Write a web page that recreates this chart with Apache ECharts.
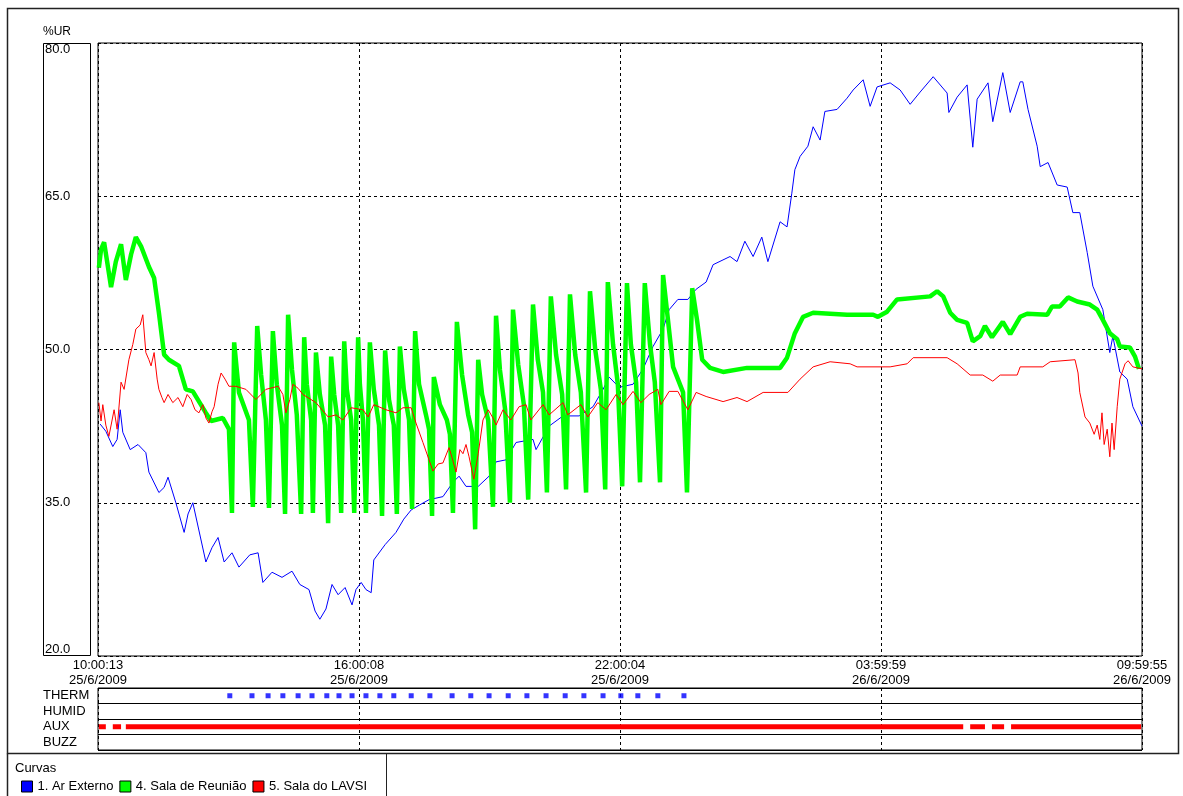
<!DOCTYPE html>
<html><head><meta charset="utf-8">
<script src="https://cdn.jsdelivr.net/npm/echarts@6/dist/echarts.min.js"></script>
<style>html,body{margin:0;padding:0;background:#fff}#c{width:1183px;height:796px}</style>
</head><body><div id="c"></div>
<script>
// X axis: hours elapsed since 25/6/2009 10:00:13
const tickTimes = ['10:00:13', '16:00:08', '22:00:04', '03:59:59', '09:59:55'];
const tickDates = ['25/6/2009', '25/6/2009', '25/6/2009', '26/6/2009', '26/6/2009'];
const statusRows = ['THERM', 'HUMID', 'AUX', 'BUZZ'];
const seriesNames = ['1. Ar Externo', '4. Sala de Reunião', '5. Sala do LAVSI'];

// 1. Ar Externo  [hours, %UR]
const arExterno = [[0.05,42.7],[0.18,42.0],[0.34,40.5],[0.44,41.2],[0.51,44.1],[0.57,41.9],[0.74,40.2],[0.92,40.7],[1.10,39.9],[1.17,38.0],[1.40,36.0],[1.52,36.5],[1.61,37.5],[1.79,35.0],[1.98,32.1],[2.07,33.9],[2.18,35.0],[2.48,29.2],[2.62,30.6],[2.76,31.6],[2.90,29.2],[3.08,30.1],[3.24,28.7],[3.49,29.9],[3.68,30.1],[3.79,27.2],[4.00,28.2],[4.23,27.7],[4.46,28.3],[4.64,27.0],[4.85,26.5],[4.99,24.4],[5.10,23.6],[5.24,24.6],[5.38,27.0],[5.52,26.0],[5.68,26.7],[5.84,25.0],[5.93,26.5],[6.05,27.2],[6.16,26.5],[6.28,26.2],[6.34,29.4],[6.60,30.9],[6.85,32.1],[7.03,33.4],[7.20,34.3],[7.40,34.8],[7.61,35.3],[7.93,35.6],[8.16,37.0],[8.30,37.6],[8.46,36.6],[8.74,36.6],[8.99,37.6],[9.15,39.0],[9.38,39.2],[9.61,40.9],[10.00,41.2],[10.07,40.2],[10.37,42.5],[10.69,43.5],[11.06,43.5],[11.38,44.4],[11.61,46.1],[11.75,47.3],[11.98,46.3],[12.30,46.6],[12.53,48.1],[12.76,50.3],[12.99,52.0],[13.13,53.9],[13.33,54.9],[13.56,54.9],[13.75,55.9],[13.98,56.6],[14.14,58.3],[14.53,59.1],[14.69,58.6],[14.87,60.6],[15.06,59.1],[15.26,61.0],[15.40,58.6],[15.68,62.5],[15.84,62.0],[15.95,65.3],[16.02,67.6],[16.14,68.9],[16.32,69.9],[16.44,71.8],[16.60,70.5],[16.71,73.3],[16.99,73.5],[17.22,74.6],[17.36,75.4],[17.59,76.4],[17.75,73.8],[17.91,75.7],[18.21,76.1],[18.44,75.4],[18.67,74.0],[18.90,75.2],[19.20,76.7],[19.52,75.1],[19.56,73.2],[19.75,74.7],[19.98,75.9],[20.11,69.8],[20.21,74.5],[20.46,76.1],[20.57,72.3],[20.80,77.1],[20.97,73.2],[21.20,76.2],[21.26,76.2],[21.38,73.5],[21.59,69.9],[21.66,67.9],[21.84,68.3],[22.05,66.1],[22.28,65.9],[22.41,63.4],[22.57,63.4],[22.74,59.5],[22.87,56.2],[23.10,53.9],[23.26,49.7],[23.33,51.3],[23.49,47.8],[23.66,47.1],[23.79,44.4],[24.00,42.5]];

// 4. Sala de Reunião  [hours, %UR]
const salaReuniao = [[0.02,58.0],[0.07,59.8],[0.14,60.5],[0.21,58.6],[0.30,56.1],[0.41,58.6],[0.53,60.3],[0.64,56.8],[0.76,59.3],[0.87,61.0],[0.99,60.1],[1.17,58.1],[1.29,57.0],[1.40,53.6],[1.52,49.5],[1.63,49.0],[1.86,48.4],[2.02,46.1],[2.18,45.9],[2.48,43.8],[2.60,43.0],[2.87,43.3],[3.01,42.2],
[3.08,34.0],[3.13,50.7],[3.24,45.8],[3.47,43.1],
[3.56,34.6],[3.66,52.3],[3.75,47.5],[3.86,43.1],
[3.93,34.5],[4.02,51.8],[4.11,46.6],[4.23,42.6],
[4.30,33.9],[4.37,53.4],[4.46,48.0],[4.57,43.6],
[4.67,33.9],[4.74,51.2],[4.80,46.6],[4.90,43.1],
[4.94,34.0],[5.01,49.7],[5.10,45.6],[5.22,42.6],
[5.29,33.0],[5.36,49.3],[5.43,45.6],[5.52,42.6],
[5.59,34.0],[5.66,50.8],[5.72,46.1],[5.82,43.1],
[5.89,34.0],[5.98,51.2],[6.02,46.6],[6.09,43.1],
[6.16,34.0],[6.25,50.7],[6.34,46.1],[6.46,42.6],
[6.53,33.7],[6.60,49.9],[6.69,45.1],[6.80,42.6],
[6.87,33.9],[6.94,50.3],[7.03,46.1],[7.15,43.1],
[7.22,34.4],[7.29,51.8],[7.38,46.6],[7.54,43.6],[7.61,42.2],
[7.68,33.7],[7.72,47.3],[7.86,44.6],[8.02,43.1],[8.09,41.7],
[8.16,34.0],[8.25,52.7],[8.37,47.5],[8.51,43.6],[8.60,41.9],
[8.67,32.4],[8.74,49.0],[8.83,45.6],[8.97,43.1],
[9.08,34.6],[9.15,53.3],[9.24,48.0],[9.36,44.1],
[9.47,35.0],[9.54,53.9],[9.66,48.5],[9.79,44.6],
[9.89,35.3],[10.00,54.4],[10.11,49.0],[10.23,45.8],
[10.32,36.0],[10.41,55.2],[10.53,49.5],[10.67,45.6],
[10.76,36.3],[10.85,55.4],[10.97,49.5],[11.10,45.8],
[11.22,36.0],[11.31,55.7],[11.43,50.0],[11.56,46.1],
[11.66,36.3],[11.72,56.6],[11.84,50.5],[11.95,46.6],
[12.05,36.6],[12.16,56.5],[12.25,50.5],[12.37,46.8],
[12.46,37.0],[12.57,56.5],[12.69,50.5],[12.80,46.8],
[12.92,37.0],[12.99,57.3],[13.22,48.3],[13.45,45.8],
[13.54,36.0],[13.66,56.0],[13.77,52.9],[13.89,49.0],[14.07,48.2],[14.37,47.8],[14.92,48.2],[15.22,48.2],[15.68,48.2],[15.84,49.2],[16.02,51.6],[16.21,53.2],[16.44,53.6],[17.22,53.4],[17.82,53.4],[17.93,53.2],[18.14,53.7],[18.37,54.9],[19.13,55.2],[19.29,55.7],[19.43,55.2],[19.59,53.6],[19.75,52.9],[19.98,52.6],[20.11,50.8],[20.28,51.3],[20.39,52.3],[20.55,51.2],[20.80,52.7],[20.97,51.5],[21.20,53.2],[21.36,53.5],[21.82,53.4],[21.93,54.2],[22.11,54.2],[22.30,55.1],[22.51,54.7],[22.80,54.4],[22.97,53.9],[23.10,52.9],[23.26,51.6],[23.43,51.0],[23.49,50.3],[23.72,50.2],[23.84,49.3],[23.93,48.1]];

// 5. Sala do LAVSI  [hours, %UR]
const salaLavsi = [[0.02,44.8],[0.07,43.0],[0.11,44.6],[0.18,42.6],[0.25,41.5],[0.32,43.0],[0.37,44.1],[0.44,42.2],[0.53,46.8],[0.60,46.1],[0.71,49.0],[0.80,50.5],[0.87,52.0],[0.97,52.4],[1.03,53.4],[1.10,49.7],[1.17,49.0],[1.22,48.4],[1.29,49.7],[1.36,47.1],[1.40,46.1],[1.47,45.3],[1.52,44.8],[1.61,45.6],[1.72,44.8],[1.84,45.3],[1.95,44.4],[2.05,45.6],[2.14,45.1],[2.23,44.1],[2.32,43.8],[2.41,44.6],[2.48,43.3],[2.55,42.8],[2.62,43.9],[2.67,44.4],[2.76,46.6],[2.83,47.7],[2.92,47.1],[3.01,46.4],[3.17,46.4],[3.40,46.1],[3.63,45.1],[3.86,46.1],[4.14,46.4],[4.25,45.6],[4.32,43.8],[4.41,45.1],[4.48,46.6],[4.60,46.2],[4.71,45.6],[5.01,44.8],[5.29,43.4],[5.47,43.6],[5.63,43.1],[5.82,44.3],[6.09,44.1],[6.21,43.4],[6.34,44.6],[6.62,44.1],[6.85,43.8],[7.01,44.3],[7.20,44.3],[7.31,42.8],[7.47,40.9],[7.61,39.2],[7.70,38.1],[7.82,38.8],[7.93,38.9],[8.07,40.4],[8.14,39.4],[8.23,38.0],[8.32,40.2],[8.39,39.8],[8.46,40.7],[8.53,39.5],[8.64,37.3],[8.74,39.8],[8.85,43.1],[8.97,44.1],[9.08,43.3],[9.15,42.6],[9.31,44.1],[9.49,43.1],[9.68,44.4],[9.84,44.6],[9.95,43.1],[10.23,44.6],[10.37,43.6],[10.69,44.8],[10.80,43.6],[11.10,44.6],[11.26,43.4],[11.49,44.8],[11.68,44.1],[11.91,45.6],[12.07,44.6],[12.30,45.9],[12.48,44.8],[12.67,45.6],[12.87,46.1],[12.94,44.6],[13.13,45.9],[13.33,45.9],[13.56,44.1],[13.75,45.8],[13.98,45.4],[14.37,44.9],[14.69,45.3],[14.92,44.9],[15.29,45.8],[15.86,45.8],[16.14,47.1],[16.44,48.3],[16.83,48.8],[17.29,48.6],[17.45,48.3],[18.21,48.3],[18.60,48.6],[18.74,49.2],[19.52,49.2],[19.75,48.6],[20.05,47.5],[20.34,47.5],[20.57,46.9],[20.74,47.5],[21.13,47.5],[21.20,48.3],[21.72,48.3],[21.89,48.8],[22.46,49.0],[22.53,47.7],[22.57,45.8],[22.69,43.4],[22.80,42.8],[22.90,41.7],[22.97,42.6],[23.03,41.2],[23.08,43.8],[23.13,40.7],[23.20,42.2],[23.26,39.5],[23.31,42.8],[23.36,40.2],[23.43,44.4],[23.49,47.1],[23.61,48.6],[23.68,48.9],[23.79,48.3],[24.00,48.1]];

// THERM events (hours)
const thermEvents = [3.03,3.54,3.91,4.25,4.60,4.92,5.26,5.54,5.84,6.16,6.48,6.80,7.20,7.63,8.14,8.57,8.99,9.43,9.86,10.30,10.74,11.17,11.61,12.02,12.41,12.87,13.47];
// AUX on intervals (hours)
const auxStart = [0.02, 0.34, 0.64, 20.05, 20.55, 20.99];
const auxEnd   = [0.18, 0.53, 19.89, 20.39, 20.83, 23.98];

const chart = echarts.init(document.getElementById('c'), null, {renderer: 'canvas'});
const FONT = 'Liberation Sans, Arial, sans-serif';
const dash = {color: '#000', width: 1, type: [3, 3]};

chart.setOption({
  animation: false,
  backgroundColor: '#fff',
  textStyle: {fontFamily: FONT, color: '#000'},
  title: {text: 'Curvas', left: 15, top: 762, padding: 0,
    textStyle: {fontSize: 13, fontWeight: 'normal', color: '#000', fontFamily: FONT}},
  legend: {
    data: seriesNames, left: 21, top: 780, padding: 0, itemGap: 6,
    itemWidth: 11, itemHeight: 11, icon: 'rect',
    itemStyle: {borderColor: '#000', borderWidth: 1},
    textStyle: {fontSize: 13, color: '#000', fontFamily: FONT},
    selectedMode: false
  },
  graphic: [
    {type: 'rect', silent: true, shape: {x: 7.5, y: 8.5, width: 1171, height: 745},
      style: {fill: 'none', stroke: '#222', lineWidth: 1.5}},
    {type: 'line', silent: true, shape: {x1: 7.5, y1: 753.5, x2: 7.5, y2: 800},
      style: {stroke: '#222', lineWidth: 1.5}},
    {type: 'line', silent: true, shape: {x1: 386.5, y1: 753.5, x2: 386.5, y2: 800},
      style: {stroke: '#222', lineWidth: 1}},
    {type: 'rect', silent: true, shape: {x: 43.5, y: 43.5, width: 47, height: 612},
      style: {fill: 'none', stroke: '#000', lineWidth: 1}}
  ],
  grid: [
    {left: 98, top: 43, width: 1044, height: 613, show: true, borderColor: '#000', borderWidth: 1, backgroundColor: '#fff'},
    {left: 98, top: 688, width: 1044, height: 62, show: true, borderColor: '#000', borderWidth: 1}
  ],
  xAxis: [
    {gridIndex: 0, type: 'value', min: 0, max: 24, interval: 6,
      axisLine: {show: false}, axisTick: {show: false},
      splitLine: {show: true, lineStyle: dash},
      axisLabel: {show: true, showMinLabel: true, showMaxLabel: true, margin: 2,
        fontSize: 13, lineHeight: 15, color: '#000', fontFamily: FONT,
        formatter: v => { const i = Math.round(v / 6); return tickTimes[i] + '\n' + tickDates[i]; }}},
    {gridIndex: 1, type: 'value', min: 0, max: 24, interval: 6,
      axisLine: {show: false}, axisTick: {show: false}, axisLabel: {show: false},
      splitLine: {show: true, lineStyle: dash}}
  ],
  yAxis: [
    {gridIndex: 0, type: 'value', min: 20, max: 80, interval: 15,
      name: '%UR', nameLocation: 'end', nameGap: 5,
      nameTextStyle: {align: 'right', verticalAlign: 'bottom', padding: [0, 27, 0, 0], fontSize: 12, color: '#000', fontFamily: FONT},
      axisLine: {show: false}, axisTick: {show: false},
      splitLine: {show: true, lineStyle: dash},
      axisLabel: {align: 'left', margin: 53, fontSize: 13, color: '#000', fontFamily: FONT,
        verticalAlignMinLabel: 'bottom', verticalAlignMaxLabel: 'top',
        formatter: v => v.toFixed(1)}},
    {gridIndex: 1, type: 'category', data: statusRows, inverse: true,
      axisLine: {show: false}, axisTick: {show: false},
      splitLine: {show: true, lineStyle: {color: '#000', width: 1}},
      axisLabel: {interval: 0, align: 'left', margin: 55, fontSize: 13, color: '#000', fontFamily: FONT}}
  ],
  series: [
    {name: seriesNames[0], type: 'line', xAxisIndex: 0, yAxisIndex: 0, data: arExterno,
      showSymbol: false, symbol: 'none', color: '#0000ff', lineStyle: {width: 1, color: '#0000ff'}, z: 3},
    {name: seriesNames[1], type: 'line', xAxisIndex: 0, yAxisIndex: 0, data: salaReuniao,
      showSymbol: false, symbol: 'none', color: '#00ff00', lineStyle: {width: 4.5, color: '#00ff00'}, z: 4},
    {name: seriesNames[2], type: 'line', xAxisIndex: 0, yAxisIndex: 0, data: salaLavsi,
      showSymbol: false, symbol: 'none', color: '#ff0000', lineStyle: {width: 1, color: '#ff0000'}, z: 5},
    {name: 'THERM', type: 'scatter', xAxisIndex: 1, yAxisIndex: 1,
      data: thermEvents.map(h => [h, 'THERM']), symbol: 'rect', symbolSize: 5,
      itemStyle: {color: '#0000ff'}, z: 5},
    {name: 'AUX', type: 'custom', xAxisIndex: 1, yAxisIndex: 1,
      data: auxStart.map((s, i) => [s, auxEnd[i], statusRows.indexOf('AUX')]),
      encode: {x: [0, 1], y: 2},
      renderItem: (params, api) => {
        const a = api.coord([api.value(0), api.value(2)]);
        const b = api.coord([api.value(1), api.value(2)]);
        return {type: 'rect', shape: {x: a[0], y: a[1] - 2.5, width: b[0] - a[0], height: 5},
          style: {fill: '#ff0000'}};
      }, z: 5}
  ]
});
</script></body></html>
